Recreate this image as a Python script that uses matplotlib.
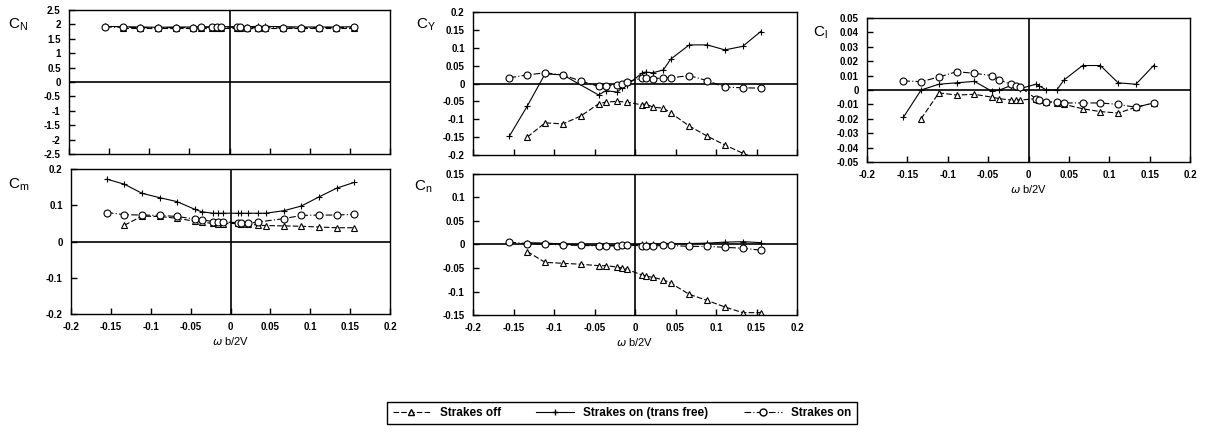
import numpy as np
import matplotlib
matplotlib.use("Agg")
import matplotlib.pyplot as plt
from matplotlib.lines import Line2D

plt.rcParams.update({
    "font.family": ["Liberation Sans", "DejaVu Sans"],
    "mathtext.fontset": "custom",
    "mathtext.rm": "Liberation Sans",
    "axes.linewidth": 1.0,
    "xtick.direction": "in",
    "ytick.direction": "in",
})

nan = np.nan

# rotation rate grid (omega b / 2V)
rate = [-0.155, -0.133, -0.111, -0.089, -0.067, -0.045, -0.036, -0.022, -0.016, -0.010,
        0.009, 0.013, 0.022, 0.035, 0.044, 0.067, 0.089, 0.111, 0.133, 0.155]

labels = ["Strakes off", "Strakes on (trans free)", "Strakes on"]

# C_N (normal force)
normal_off = [nan, 1.88, 1.88, 1.88, 1.88, 1.88, 1.88, 1.88, 1.88, 1.88,
              1.88, 1.88, 1.88, 1.88, 1.88, 1.88, 1.88, 1.88, 1.88, 1.88]
normal_free = [1.93, 1.92, 1.91, 1.90, 1.91, 1.91, 1.91, 1.92, 1.92, 1.92,
               1.92, 1.92, 1.92, 1.93, 1.93, 1.92, 1.91, 1.91, 1.91, 1.92]
normal_on = [1.91, 1.90, 1.89, 1.88, 1.89, 1.89, 1.90, 1.90, 1.90, 1.90,
             1.90, 1.90, 1.89, 1.89, 1.88, 1.88, 1.88, 1.89, 1.89, 1.90]

# C_m (pitching moment)
pitch_off = [nan, 0.045, 0.070, 0.069, 0.064, 0.056, 0.053, 0.050, 0.049, 0.049,
             0.050, 0.049, 0.048, 0.045, 0.044, 0.043, 0.042, 0.040, 0.038, 0.038]
pitch_free = [0.172, 0.158, 0.133, 0.121, 0.110, 0.089, 0.082, 0.078, 0.078, 0.078,
              0.078, 0.078, 0.078, 0.078, 0.078, 0.085, 0.098, 0.123, 0.147, 0.163]
pitch_on = [0.080, 0.074, 0.073, 0.072, 0.069, 0.062, 0.060, 0.055, 0.054, 0.054,
            0.052, 0.051, 0.050, 0.054, nan, 0.063, 0.072, 0.073, 0.073, 0.075]

# C_Y (side force)
side_off = [nan, -0.150, -0.110, -0.113, -0.091, -0.057, -0.052, -0.050, nan, -0.052,
            -0.060, -0.057, -0.066, -0.069, -0.082, -0.119, -0.147, -0.172, -0.195, -0.215]
side_free = [-0.147, -0.063, 0.027, 0.024, nan, -0.032, -0.020, -0.024, -0.012, -0.005,
             0.030, 0.032, 0.030, 0.038, 0.068, 0.108, 0.108, 0.094, 0.104, 0.145]
side_on = [0.016, 0.024, 0.030, 0.024, 0.007, -0.008, -0.006, -0.004, -0.002, 0.005,
           0.015, 0.016, 0.013, 0.016, 0.016, 0.022, 0.008, -0.010, -0.012, -0.013]

# C_n (yawing moment)
yaw_off = [nan, -0.015, -0.038, -0.040, -0.042, -0.045, -0.045, -0.048, -0.050, -0.053,
           -0.065, -0.067, -0.070, -0.075, -0.082, -0.106, -0.119, -0.133, -0.145, -0.145]
yaw_free = [nan, 0.004, 0.003, 0.001, -0.001, -0.002, -0.002, -0.002, -0.002, -0.001,
            0.000, 0.000, 0.001, 0.001, 0.002, 0.002, 0.003, 0.005, 0.006, 0.004]
yaw_on = [0.005, 0.002, 0.001, -0.001, -0.002, -0.003, -0.003, -0.003, -0.002, -0.001,
          -0.003, -0.004, -0.003, -0.002, -0.002, -0.004, -0.004, -0.006, -0.008, -0.012]

# C_l (rolling moment)
roll_off = [nan, -0.020, -0.002, -0.0035, -0.003, -0.005, -0.006, -0.007, -0.007, -0.007,
            -0.006, -0.007, -0.008, -0.009, -0.010, -0.013, -0.015, -0.016, -0.012, -0.009]
roll_free = [-0.019, 0.000, 0.004, 0.005, 0.006, -0.001, 0.000, 0.003, 0.002, 0.001,
             0.004, 0.003, 0.000, 0.000, 0.007, 0.017, 0.017, 0.005, 0.004, 0.017]
roll_on = [0.0063, 0.0058, 0.009, 0.0127, 0.0116, 0.010, 0.007, 0.004, 0.003, 0.002,
           -0.006, -0.007, -0.008, -0.008, -0.009, -0.009, -0.009, -0.010, -0.012, -0.009]

STYLES = [
    dict(marker="^", linestyle=(0, (5, 2)), markersize=4.5),
    dict(marker="+", linestyle="-", markersize=5),
    dict(marker="o", linestyle=(0, (6, 2, 1, 2)), markersize=5),
]
TICK_FONT = dict(fontsize=7, fontweight="bold")


def fmt(v):
    return "0" if abs(v) < 1e-9 else f"{v:g}"


def draw_panel(ax, series, yticks, xlabels=True, xlabel=False):
    x = np.array(rate)
    for vals, st in zip(series, STYLES):
        y = np.array(vals, dtype=float)
        m = ~np.isnan(y)
        ax.plot(x[m], y[m], color="black", linewidth=0.8, markerfacecolor="white",
                markeredgecolor="black", markeredgewidth=0.8, clip_on=True, **st)
    ax.axhline(0, color="black", linewidth=1.2, zorder=1)
    ax.axvline(0, color="black", linewidth=1.2, zorder=1)
    ax.set_xlim(-0.2, 0.2)
    ax.set_ylim(yticks[0], yticks[-1])
    xt = np.round(np.arange(-0.2, 0.2001, 0.05), 3)
    ax.set_xticks(xt)
    ax.set_yticks(yticks)
    ax.tick_params(length=4, width=1, top=False, right=False, pad=6)
    ax.set_yticklabels([fmt(v) for v in yticks], **TICK_FONT)
    if xlabels:
        ax.set_xticklabels([fmt(v) for v in xt], **TICK_FONT)
    else:
        ax.set_xticklabels([])
    if xlabel:
        ax.set_xlabel(r"$\omega$ b/2V", fontsize=8, labelpad=2)


fig = plt.figure(figsize=(12.21, 4.33), dpi=100)
W, H = 1221, 433


def box(l, r, t, b):
    return [l / W, 1 - b / H, (r - l) / W, (b - t) / H]


ax_N = fig.add_axes(box(69, 390, 10, 154))
ax_m = fig.add_axes(box(71, 390, 169, 314))
ax_Y = fig.add_axes(box(473, 797, 12, 155))
ax_n = fig.add_axes(box(473, 797, 174, 315))
ax_l = fig.add_axes(box(867, 1190, 18, 162))

draw_panel(ax_N, [normal_off, normal_free, normal_on],
           np.round(np.arange(-2.5, 2.501, 0.5), 2), xlabels=False)
draw_panel(ax_m, [pitch_off, pitch_free, pitch_on],
           np.round(np.arange(-0.2, 0.2001, 0.1), 2), xlabel=True)
draw_panel(ax_Y, [side_off, side_free, side_on],
           np.round(np.arange(-0.2, 0.2001, 0.05), 3), xlabels=False)
draw_panel(ax_n, [yaw_off, yaw_free, yaw_on],
           np.round(np.arange(-0.15, 0.1501, 0.05), 3), xlabel=True)
draw_panel(ax_l, [roll_off, roll_free, roll_on],
           np.round(np.arange(-0.05, 0.0501, 0.01), 3), xlabel=True)

for txt, px, py in [(r"$\mathregular{C_N}$", 8, 25), (r"$\mathregular{C_m}$", 8, 185),
                    (r"$\mathregular{C_Y}$", 416, 25), (r"$\mathregular{C_n}$", 414, 187),
                    (r"$\mathregular{C_l}$", 813, 33)]:
    fig.text(px / W, 1 - py / H, txt, fontsize=11, ha="left", va="center")

handles = [Line2D([], [], color="black", linewidth=0.8, markerfacecolor="white",
                  markeredgecolor="black", **st) for st in STYLES]
fig.legend(handles, labels, loc="center", bbox_to_anchor=(622 / W, 1 - 413 / H), ncol=3,
           frameon=True, fancybox=False, edgecolor="black", framealpha=1,
           prop=dict(size=8.5, weight="bold"), handlelength=3.2, columnspacing=3,
           borderpad=0.45)

fig.savefig("out.png", dpi=100, facecolor="white")
